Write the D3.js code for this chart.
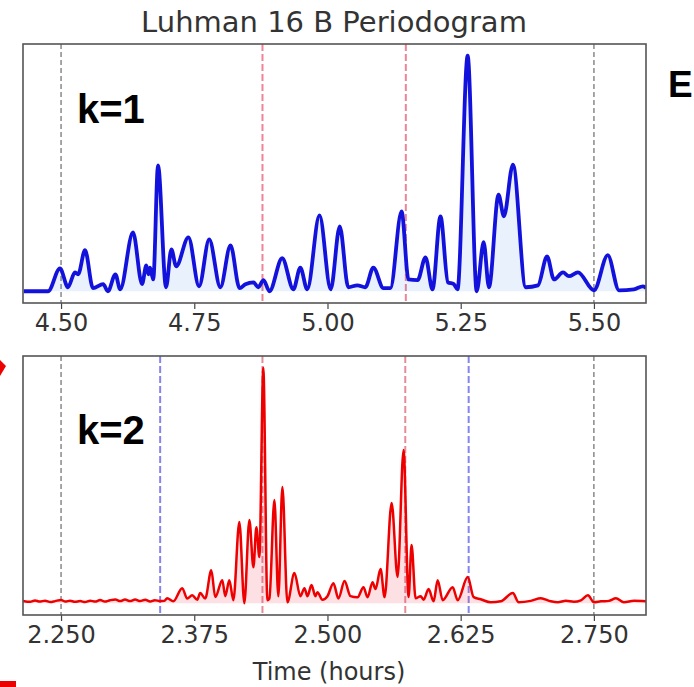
<!DOCTYPE html>
<html>
<head>
<meta charset="utf-8">
<script src="https://cdn.jsdelivr.net/npm/d3@7"></script>
<style>
  body { margin: 0; background: #fff; }
  svg { display: block; }
</style>
</head>
<body>
<svg id="chart" width="694" height="687"></svg>
<script>
// k=1 periodogram (period in hours, normalised power)
const topPeriod = [4.430, 4.4756, 4.498, 4.513, 4.526, 4.532, 4.545, 4.560, 4.579, 4.588, 4.602, 4.611,
  4.635, 4.652, 4.660, 4.664, 4.667, 4.673, 4.682, 4.697, 4.707, 4.716, 4.739, 4.759, 4.778, 4.799,
  4.818, 4.835, 4.846, 4.861, 4.870, 4.880, 4.891, 4.915, 4.936, 4.949, 4.962, 4.985, 5.006, 5.023,
  5.039, 5.056, 5.071, 5.086, 5.105, 5.118, 5.139, 5.152, 5.169, 5.184, 5.197, 5.212, 5.226, 5.237,
  5.244, 5.263, 5.280, 5.293, 5.303, 5.321, 5.331, 5.348, 5.372, 5.395, 5.412, 5.425, 5.442, 5.453,
  5.470, 5.500, 5.526, 5.547, 5.575, 5.592, 5.598];
const topPower = [0.0, 0.0, 0.097, 0.017, 0.08, 0.072, 0.174, 0.013, 0.03, 0.0, 0.072, 0.008,
  0.25, 0.03, 0.11, 0.072, 0.10, 0.05, 0.534, 0.017, 0.178, 0.106, 0.229, 0.021, 0.22, 0.017,
  0.195, 0.013, 0.03, 0.038, 0.017, 0.047, 0.0, 0.14, 0.008, 0.10, 0.008, 0.322, 0.008, 0.275,
  0.017, 0.025, 0.017, 0.10, 0.013, 0.013, 0.339, 0.05, 0.047, 0.144, 0.008, 0.318, 0.038, 0.03,
  0.008, 1.0, 0.0, 0.208, 0.017, 0.41, 0.318, 0.538, 0.017, 0.025, 0.148, 0.05, 0.08, 0.064,
  0.08, 0.004, 0.153, 0.004, 0.008, 0.021, 0.013];

// k=2 periodogram
const bottomPeriod = [2.2143, 2.2210, 2.2256, 2.2300, 2.2350, 2.2400, 2.2444, 2.2500, 2.2540, 2.2585,
  2.2630, 2.2679, 2.2725, 2.2773, 2.2820, 2.2867, 2.2910, 2.2961, 2.3010, 2.3055, 2.3100, 2.3148,
  2.3195, 2.3242, 2.3290, 2.3336, 2.3380, 2.3430, 2.3470, 2.3496, 2.3553, 2.3637, 2.3684, 2.3731,
  2.3778, 2.3806, 2.3853, 2.3910, 2.3947, 2.4013, 2.4041, 2.4079, 2.4117, 2.4173, 2.4220, 2.4267,
  2.4305, 2.4333, 2.4361, 2.4398, 2.4436, 2.4455, 2.4502, 2.4539, 2.4577, 2.4624, 2.4690, 2.4746,
  2.4784, 2.4812, 2.4850, 2.4887, 2.4906, 2.4953, 2.5000, 2.5056, 2.5103, 2.5160, 2.5216, 2.5282,
  2.5338, 2.5376, 2.5423, 2.5451, 2.5498, 2.5536, 2.5602, 2.5658, 2.5714, 2.5761, 2.5789, 2.5827,
  2.5874, 2.5902, 2.5949, 2.5996, 2.6034, 2.6081, 2.6175, 2.6222, 2.6316, 2.6372, 2.6438, 2.6532,
  2.6626, 2.6739, 2.6795, 2.6908, 2.7002, 2.7096, 2.7162, 2.7237, 2.7312, 2.7378, 2.7444, 2.7500,
  2.7566, 2.7640, 2.7707, 2.7782, 2.7876, 2.7989];
const bottomPower = [0.010, 0.006, 0.012, 0.007, 0.011, 0.005, 0.009, 0.014, 0.007, 0.011,
  0.006, 0.009, 0.005, 0.011, 0.007, 0.014, 0.007, 0.013, 0.016, 0.009, 0.016, 0.009,
  0.016, 0.009, 0.015, 0.007, 0.013, 0.009, 0.010, 0.021, 0.008, 0.064, 0.020, 0.034,
  0.015, 0.043, 0.020, 0.140, 0.026, 0.098, 0.030, 0.098, 0.013, 0.345, 0.0, 0.353,
  0.153, 0.323, 0.196, 1.0, 0.013, 0.020, 0.438, 0.030, 0.494, 0.004, 0.128, 0.030,
  0.064, 0.030, 0.077, 0.030, 0.047, 0.015, 0.030, 0.085, 0.020, 0.094, 0.030, 0.025,
  0.068, 0.025, 0.089, 0.060, 0.145, 0.026, 0.426, 0.111, 0.651, 0.026, 0.247, 0.021,
  0.030, 0.015, 0.060, 0.008, 0.098, 0.013, 0.068, 0.013, 0.111, 0.026, 0.017, 0.004,
  0.008, 0.043, 0.004, 0.010, 0.021, 0.008, 0.004, 0.010, 0.006, 0.012, 0.034, 0.004,
  0.008, 0.010, 0.021, 0.004, 0.010, 0.008];

const topTicks = [4.50, 4.75, 5.00, 5.25, 5.50];
const bottomTicks = [2.250, 2.375, 2.500, 2.625, 2.750];
const topGrayLines = [4.50, 5.50];
const topRedLines = [4.878, 5.147];
const bottomGrayLines = [2.250, 2.750];
const bottomBlueLines = [2.343, 2.6325];
const bottomRedLines = [2.439, 2.573];

const svg = d3.select('#chart');
const left = 23, right = 646;

function drawPanel(opts) {
    const g = svg.append('g');
    const x = d3.scaleLinear().domain(opts.xDomain).range([left, right]);
    const y = d3.scaleLinear().domain([-0.05, 1.05]).range([opts.bottom, opts.top]);
    const data = opts.xs.map((v, i) => [v, opts.ys[i]]);

    const clipId = 'clip-' + opts.name;
    g.append('clipPath').attr('id', clipId)
        .append('rect')
        .attr('x', left).attr('y', opts.top)
        .attr('width', right - left).attr('height', opts.bottom - opts.top);

    const inner = g.append('g').attr('clip-path', `url(#${clipId})`);

    // dashed markers
    opts.vlines.forEach(set => {
        inner.selectAll(null)
            .data(set.values)
            .enter()
            .append('line')
            .attr('x1', d => x(d)).attr('x2', d => x(d))
            .attr('y1', opts.top).attr('y2', opts.bottom)
            .attr('stroke', set.color)
            .attr('stroke-width', set.width)
            .attr('stroke-dasharray', set.dash);
    });

    const area = d3.area()
        .x(d => x(d[0]))
        .y0(y(0))
        .y1(d => y(d[1]))
        .curve(d3.curveMonotoneX);
    inner.append('path')
        .datum(data)
        .attr('d', area)
        .attr('fill', opts.fill);

    const line = d3.line()
        .x(d => x(d[0]))
        .y(d => y(d[1]))
        .curve(d3.curveMonotoneX);
    inner.append('path')
        .datum(data)
        .attr('d', line)
        .attr('fill', 'none')
        .attr('stroke', opts.color)
        .attr('stroke-width', opts.lineWidth)
        .attr('stroke-linejoin', 'round');

    // axis
    const axis = d3.axisBottom(x)
        .tickValues(opts.ticks)
        .tickFormat(d3.format(opts.fmt))
        .tickSizeInner(6)
        .tickSizeOuter(0)
        .tickPadding(5);
    const ax = g.append('g')
        .attr('transform', `translate(0,${opts.bottom})`)
        .call(axis);
    ax.select('.domain').remove();
    ax.selectAll('.tick line').attr('stroke', '#444').attr('stroke-width', 1.2);
    ax.selectAll('.tick text')
        .attr('fill', '#333')
        .style('font-family', 'DejaVu Sans')
        .style('font-size', '24px');

    g.append('rect')
        .attr('x', left).attr('y', opts.top)
        .attr('width', right - left).attr('height', opts.bottom - opts.top)
        .attr('fill', 'none')
        .attr('stroke', '#555')
        .attr('stroke-width', 1.6);

    g.append('text')
        .attr('x', 77).attr('y', opts.labelY)
        .text(opts.label)
        .style('font-family', 'Liberation Sans, Arial, sans-serif')
        .style('font-weight', 'bold')
        .style('font-size', '40px')
        .attr('fill', '#000');
}

drawPanel({
    name: 'k1', top: 44, bottom: 303,
    xDomain: [4.4286, 5.5977],
    xs: topPeriod, ys: topPower,
    color: '#1212dc', lineWidth: 3.8, fill: 'rgba(30, 120, 230, 0.10)',
    ticks: topTicks, fmt: '.2f',
    vlines: [
        { values: topGrayLines, color: '#777', width: 1.3, dash: '5,3' },
        { values: topRedLines, color: 'rgba(235, 110, 130, 0.85)', width: 2, dash: '7,3' }
    ],
    label: 'k=1', labelY: 123
});

drawPanel({
    name: 'k2', top: 356, bottom: 615,
    xDomain: [2.2143, 2.7989],
    xs: bottomPeriod, ys: bottomPower,
    color: '#ee0000', lineWidth: 2.5, fill: 'rgba(240, 60, 90, 0.16)',
    ticks: bottomTicks, fmt: '.3f',
    vlines: [
        { values: bottomGrayLines, color: '#777', width: 1.3, dash: '5,3' },
        { values: bottomBlueLines, color: 'rgba(110, 110, 235, 0.85)', width: 2, dash: '7,3' },
        { values: bottomRedLines, color: 'rgba(225, 120, 135, 0.85)', width: 2, dash: '7,3' }
    ],
    label: 'k=2', labelY: 444
});

svg.append('text')
    .attr('x', 334).attr('y', 32)
    .attr('text-anchor', 'middle')
    .attr('fill', '#333')
    .style('font-family', 'DejaVu Sans')
    .style('font-size', '29px')
    .text('Luhman 16 B Periodogram');

svg.append('text')
    .attr('x', 329).attr('y', 680)
    .attr('text-anchor', 'middle')
    .attr('fill', '#333')
    .style('font-family', 'DejaVu Sans')
    .style('font-size', '24px')
    .text('Time (hours)');

svg.append('text')
    .attr('x', 668).attr('y', 97)
    .text('E')
    .style('font-family', 'Liberation Sans, Arial, sans-serif')
    .style('font-weight', 'bold')
    .style('font-size', '37px')
    .attr('fill', '#000');

// red edge marks left over from the figure crop
svg.append('path')
    .attr('d', 'M0,360 L6,366 L0,376 Z')
    .attr('fill', '#e00');
svg.append('rect')
    .attr('x', 0).attr('y', 681).attr('width', 16).attr('height', 6)
    .attr('fill', '#e00');
</script>
</body>
</html>
